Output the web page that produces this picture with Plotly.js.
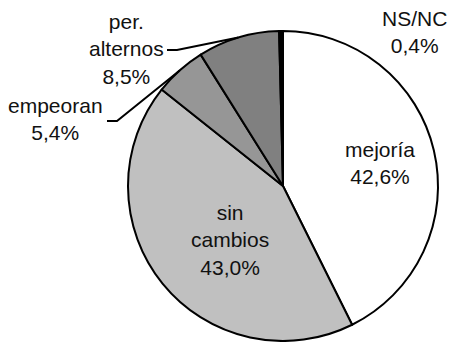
<!DOCTYPE html>
<html><head><meta charset="utf-8">
<script src="https://cdn.plot.ly/plotly-3.0.1.min.js"></script>
<style>html,body{margin:0;padding:0;background:#fff;}#c{width:449px;height:342px;}</style>
</head><body><div id="c"></div>
<script>
var categories = ["mejoría", "sin cambios", "empeoran", "per. alternos", "NS/NC"];
var labelLines = [["mejoría"], ["sin", "cambios"], ["empeoran"], ["per.", "alternos"], ["NS/NC"]];
var values = [42.6, 43.0, 5.4, 8.5, 0.4];
var colors = ["#ffffff", "#c0c0c0", "#969696", "#808080", "#000000"];

var W = 449, H = 342;
var cx = 283, cy = 186, R = 155;
function px(x){ return x / W; }
function py(y){ return 1 - y / H; }

function fmt(v){ return v.toFixed(1).replace('.', ',') + '%'; }
var total = values.reduce(function(a,b){return a+b;}, 0);
// mid angle (clockwise from 12 o'clock) of each slice, from data
var mids = [], acc = 0;
values.forEach(function(v){ mids.push((acc + v/2) / total * 2 * Math.PI); acc += v; });
function edgePt(i, f){ f = f || 1; return [cx + R*f*Math.sin(mids[i]), cy - R*f*Math.cos(mids[i])]; }

var trace = {
  type: 'pie',
  labels: categories,
  values: values,
  sort: false,
  direction: 'clockwise',
  rotation: 0,
  textinfo: 'none',
  hoverinfo: 'none',
  marker: {colors: colors, line: {color: '#000', width: 2}},
  domain: {x: [px(cx - R), px(cx + R)], y: [py(cy + R), py(cy - R)]},
  showlegend: false
};

var font = {family: '"Liberation Sans", Arial, sans-serif', size: 21, color: '#111'};
// label anchor positions (text centre), in pixels
var labelPos = [[380, 163], [230, 240], [55, 119], [126, 49], [414, 32]];
var annotations = [];
for (var i = 0; i < categories.length; i++) {
  annotations.push({
    x: px(labelPos[i][0]), y: py(labelPos[i][1]), xref: 'paper', yref: 'paper',
    text: labelLines[i].concat([fmt(values[i])]).join('<br>'),
    showarrow: false, font: font, xanchor: 'center', yanchor: 'middle', align: 'center'
  });
}

// leader lines for the outside labels
var shapes = [];
function leader(i, sx, sy, kx){
  var e = edgePt(i);
  shapes.push({type: 'path', xref: 'paper', yref: 'paper',
    path: 'M ' + px(sx) + ',' + py(sy) + ' L ' + px(kx) + ',' + py(sy) + ' L ' + px(e[0]) + ',' + py(e[1]),
    line: {color: '#000', width: 2}});
}
leader(2, 107, 121, 117);
leader(3, 167, 50, 177);

var layout = {
  width: W, height: H,
  margin: {l: 0, r: 0, t: 0, b: 0},
  paper_bgcolor: '#fff',
  annotations: annotations,
  shapes: shapes
};
Plotly.newPlot('c', [trace], layout, {staticPlot: true, displayModeBar: false});
</script></body></html>
